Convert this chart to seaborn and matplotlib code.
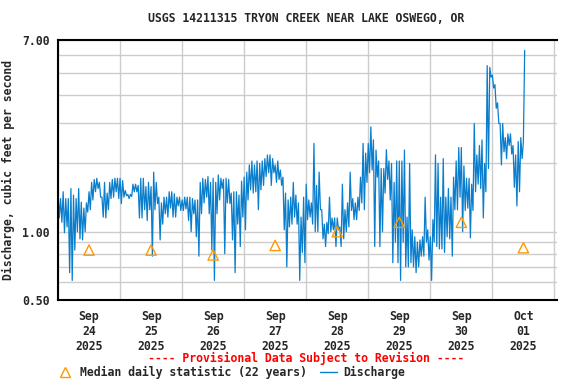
import pandas as pd
import seaborn as sns
import matplotlib.pyplot as plt
import matplotlib.dates as mdates
from matplotlib.ticker import FixedLocator, FuncFormatter, NullFormatter
from matplotlib.lines import Line2D

# Discharge (cfs), one value every 30 minutes
sep24 = [1.50, 1.15, 1.40, 1.10, 1.50, 0.99, 1.40, 1.05, 1.40, 0.66, 1.55, 0.61,
         1.45, 0.83, 1.40, 1.00, 1.55, 0.93, 1.35, 0.92, 1.27, 1.00, 1.34, 1.22,
         1.50, 1.25, 1.65, 1.38, 1.70, 1.50, 1.72, 1.55, 1.65, 1.42, 1.42, 1.16,
         1.65, 1.15, 1.48, 1.25, 1.65, 1.40, 1.70, 1.42, 1.72, 1.50, 1.72, 1.40]
sep25 = [1.72, 1.33, 1.68, 1.42, 1.52, 1.44, 1.46, 1.40, 1.46, 1.43, 1.62, 1.50,
         1.62, 1.50, 1.60, 1.15, 1.72, 1.15, 1.72, 1.25, 1.58, 1.12, 1.65, 1.25,
         1.58, 0.78, 1.83, 1.25, 1.65, 1.33, 1.42, 0.92, 1.34, 1.08, 1.42, 1.20,
         1.42, 1.16, 1.50, 1.27, 1.50, 1.16, 1.47, 1.16, 1.42, 1.30, 1.42, 1.24]
sep26 = [1.38, 1.24, 1.42, 1.26, 1.42, 1.12, 1.42, 1.00, 1.40, 1.20, 1.38, 0.95,
         1.38, 0.78, 1.65, 1.20, 1.72, 1.34, 1.70, 1.42, 1.75, 1.20, 1.65, 0.83,
         1.72, 0.61, 1.65, 1.20, 1.78, 1.38, 1.72, 1.55, 1.70, 0.80, 1.72, 1.34,
         1.70, 1.33, 1.48, 0.92, 1.50, 0.66, 1.50, 1.08, 1.45, 0.86, 1.67, 1.16]
sep27 = [1.74, 1.02, 1.83, 1.38, 1.97, 1.53, 2.05, 1.48, 1.97, 1.50, 2.05, 1.25,
         2.00, 1.53, 2.05, 1.60, 2.10, 1.75, 2.18, 1.82, 2.18, 1.60, 2.10, 1.82,
         1.97, 1.65, 2.05, 1.70, 1.87, 1.60, 1.74, 1.02, 1.48, 0.70, 1.38, 1.05,
         1.42, 1.08, 1.65, 1.16, 1.45, 1.08, 1.34, 0.61, 1.16, 0.81, 1.42, 0.73]
sep28 = [1.62, 1.13, 1.38, 1.16, 1.34, 1.08, 2.45, 1.00, 1.60, 1.00, 1.83, 1.25,
         1.25, 0.93, 1.08, 0.86, 1.10, 0.98, 1.42, 1.00, 1.15, 1.02, 1.15, 0.86,
         1.15, 1.02, 1.05, 0.86, 1.62, 0.93, 1.25, 1.00, 1.34, 1.05, 1.83, 1.24,
         1.40, 1.13, 1.34, 1.13, 1.42, 1.24, 1.74, 1.34, 2.45, 1.25, 2.22, 1.65]
sep29 = [2.45, 1.82, 2.90, 1.87, 2.54, 0.86, 2.29, 1.74, 2.05, 0.86, 1.90, 1.00,
         1.90, 1.48, 2.30, 1.70, 2.05, 1.38, 2.00, 0.73, 1.65, 0.90, 2.05, 0.73,
         2.05, 0.61, 2.05, 0.90, 2.29, 0.70, 1.16, 0.70, 2.00, 0.73, 1.02, 0.70,
         0.95, 0.66, 0.90, 0.70, 0.92, 0.78, 0.95, 0.78, 1.42, 0.90, 1.02, 0.75]
sep30 = [0.95, 0.61, 1.13, 0.90, 2.18, 0.86, 2.00, 0.84, 1.42, 0.84, 2.10, 0.81,
         1.42, 0.95, 1.55, 0.93, 1.42, 0.78, 1.74, 1.25, 2.05, 1.25, 2.35, 1.42,
         2.35, 1.00, 1.95, 1.24, 1.72, 1.27, 1.72, 0.94, 1.62, 1.24, 3.00, 1.50,
         2.18, 1.62, 2.40, 1.55, 2.54, 1.15, 2.00, 1.50, 5.40, 1.90, 5.30, 4.80]
oct01 = [4.90, 4.30, 4.45, 3.50, 3.70, 3.00, 3.00, 1.97, 3.00, 2.25, 2.60, 2.10,
         2.70, 2.40, 2.70, 2.20, 2.40, 1.57, 2.18, 1.30, 2.50, 1.50, 2.60, 2.10,
         2.50, 6.30]

# Median daily statistic (22 years)
median_days = ['2025-09-24 12:00', '2025-09-25 12:00', '2025-09-26 12:00', '2025-09-27 12:00',
               '2025-09-28 12:00', '2025-09-29 12:00', '2025-09-30 12:00', '2025-10-01 12:00']
median_cfs = [0.83, 0.83, 0.79, 0.87, 1.00, 1.10, 1.10, 0.85]

discharge = sep24 + sep25 + sep26 + sep27 + sep28 + sep29 + sep30 + oct01
times = pd.date_range('2025-09-24 00:00', periods=len(discharge), freq='30min')

blue = '#0A7ECC'
orange = '#FF9900'

sns.set_style('white')
plt.rcParams['font.family'] = ['DejaVu Sans Mono']
plt.rcParams['font.weight'] = 'bold'
plt.rcParams['axes.labelweight'] = 'bold'
plt.rcParams['font.size'] = 8.3

fig = plt.figure(figsize=(5.76, 3.84), dpi=100)
ax = fig.add_axes([58 / 576, 1 - 300 / 384, 499 / 576, 260 / 384])

sns.lineplot(x=times, y=discharge, ax=ax, color=blue, linewidth=0.9, estimator=None)
sns.scatterplot(x=pd.to_datetime(median_days), y=median_cfs, ax=ax, marker='^', s=55,
                color=orange, facecolor='none', edgecolor=orange, linewidth=1.0, zorder=3)

# log y axis, labels only at 0.5, 1 and 7
ax.set_yscale('log')
ax.set_ylim(0.5, 7.0)
ax.yaxis.set_major_locator(FixedLocator([0.5, 1.0, 7.0]))
ax.yaxis.set_major_formatter(FuncFormatter(lambda v, p: f'{v:.2f}'))
ax.yaxis.set_minor_locator(FixedLocator([0.6, 0.7, 0.8, 0.9, 2, 3, 4, 5, 6]))
ax.yaxis.set_minor_formatter(NullFormatter())

# gridlines at midnight, date labels at noon
ax.set_xlim(pd.Timestamp('2025-09-24 00:00'), pd.Timestamp('2025-10-02 01:00'))
ax.xaxis.set_major_locator(mdates.DayLocator())
ax.xaxis.set_major_formatter(NullFormatter())
ax.xaxis.set_minor_locator(mdates.HourLocator(byhour=12))
ax.xaxis.set_minor_formatter(mdates.DateFormatter('%b\n%d\n%Y'))

ax.grid(which='major', axis='x', color='#CCCCCC', linewidth=1)
ax.grid(which='both', axis='y', color='#CCCCCC', linewidth=1)
ax.set_axisbelow(True)
ax.tick_params(which='both', length=0)
ax.tick_params(axis='y', pad=6)
ax.tick_params(axis='x', which='minor', pad=7)

for side in ['top', 'bottom', 'left']:
    ax.spines[side].set_color('black')
    ax.spines[side].set_linewidth(1.5)
ax.spines['right'].set_visible(False)

ax.set_xlabel('')
ax.set_ylabel('Discharge, cubic feet per second')
ax.yaxis.set_label_coords(-0.086, 0.5)

fig.text(306 / 576, 1 - 19 / 384, 'USGS 14211315 TRYON CREEK NEAR LAKE OSWEGO, OR',
         ha='center', va='center')
fig.text(306 / 576, 1 - 358 / 384, '---- Provisional Data Subject to Revision ----',
         ha='center', va='center', color='red')

handles = [Line2D([], [], marker='^', linestyle='none', markerfacecolor='none',
                  markeredgecolor=orange, markersize=7.5),
           Line2D([], [], color=blue, linewidth=1)]
fig.legend(handles, ['Median daily statistic (22 years)', 'Discharge'], ncol=2,
           loc='center left', bbox_to_anchor=(51 / 576, 1 - 372 / 384), frameon=False,
           borderpad=0, handlelength=1.5, handletextpad=0.55, columnspacing=1.1)

plt.savefig('out.png', dpi=100)
